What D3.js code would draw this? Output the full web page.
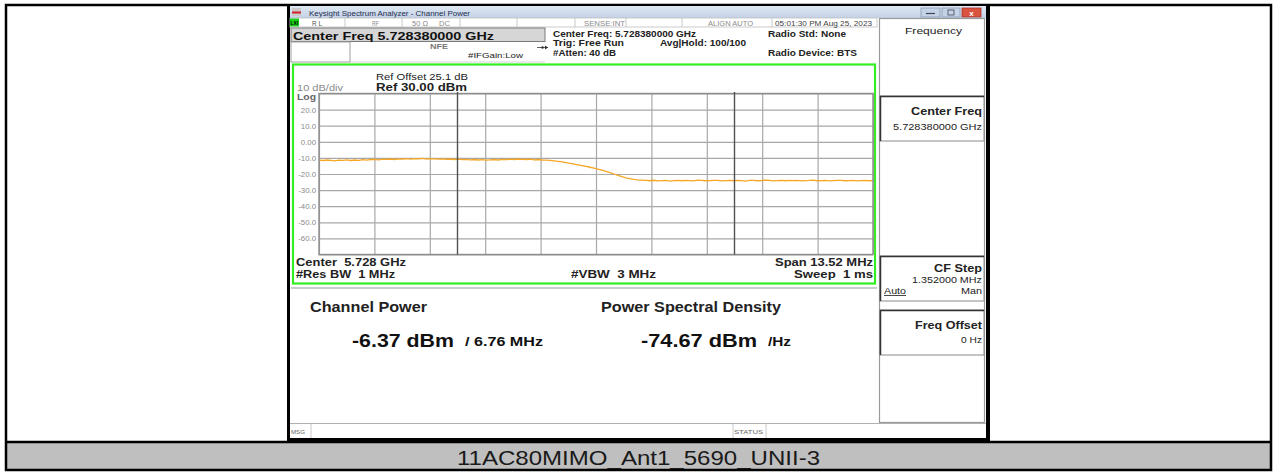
<!DOCTYPE html>
<html><head><meta charset="utf-8">
<script src="https://cdn.jsdelivr.net/npm/d3@7"></script>
<style>body{margin:0;background:#fff}svg{display:block}text{font-family:"Liberation Sans",Arial,sans-serif;white-space:pre}</style>
</head><body><svg id="c" width="1274" height="472"></svg>
<script>
// ---- data ----
const centerGHz = 5.72838;
const spanMHz = 13.52;
const integBWMHz = 6.76;
const refLevel = 30;          // dBm
const dbPerDiv = 10;
const yTickValues = [20, 10, 0, -10, -20, -30, -40, -50, -60];
const yTickLabels = ["20.0", "10.0", "0.00", "-10.0", "-20.0", "-30.0", "-40.0", "-50.0", "-60.0"];
const traceDbm = [
  -11.4,-11.6,-11.3,-11.5,-11.8,-11.4,-11.5,-11.2,-11.6,-11.3,
  -11.5,-11.1,-11.4,-11.0,-10.9,-11.2,-10.8,-10.9,-10.7,-11.0,
  -10.6,-10.8,-10.5,-10.7,-10.4,-10.6,-10.3,-10.7,-10.5,-10.6,
  -10.8,-10.6,-10.9,-10.7,-11.0,-10.8,-11.1,-10.9,-11.2,-11.0,
  -11.3,-11.1,-11.4,-11.2,-11.0,-11.3,-10.9,-11.1,-10.8,-11.0,
  -10.7,-10.9,-11.0,-10.8,-11.2,-11.0,-11.3,-11.4,-11.6,-11.8,
  -12.1,-12.5,-12.9,-13.4,-13.8,-14.3,-14.8,-15.3,-15.8,-16.3,
  -16.9,-17.6,-18.4,-19.2,-20.0,-20.9,-21.7,-22.4,-22.9,-23.3,
  -23.6,-23.8,-24.0,-24.2,-23.9,-24.3,-24.1,-24.0,-24.4,-24.1,
  -23.9,-24.2,-24.0,-24.1,-24.3,-23.8,-24.0,-24.2,-24.1,-23.9,
  -24.0,-24.3,-24.1,-23.9,-24.2,-24.0,-24.1,-24.4,-23.9,-24.0,
  -24.2,-24.1,-23.8,-24.0,-24.3,-24.1,-24.0,-24.2,-23.9,-24.1,
  -24.0,-24.3,-24.1,-24.0,-23.8,-24.2,-24.1,-24.0,-24.3,-24.1,
  -24.0,-23.9,-24.2,-24.1,-24.0,-24.3,-24.1,-23.9,-24.2,-24.1
];
const caption = "11AC80MIMO_Ant1_5690_UNII-3";
const channelPower = "-6.37 dBm";
const psd = "-74.67 dBm";

// ---- drawing ----
const svg = d3.select("#c");
const F = '"Liberation Sans",Arial,sans-serif';
// text placed by left edge x0 and right edge x1 (stretched to fit)
function tx(x0, x1, y, s, o = {}) {
  const t = svg.append("text").attr("x", x0).attr("y", y).text(s)
    .attr("font-size", o.size || 8).attr("fill", o.fill || "#222")
    .attr("font-weight", o.bold ? "bold" : "normal")
    .attr("textLength", x1 - x0).attr("lengthAdjust", "spacingAndGlyphs");
  if (o.underline) t.attr("text-decoration", "underline");
  return t;
}
function rect(x, y, w, h, fill, stroke, sw) {
  return svg.append("rect").attr("x", x).attr("y", y).attr("width", w).attr("height", h)
    .attr("fill", fill || "none").attr("stroke", stroke || "none").attr("stroke-width", sw || 1);
}
function line(x1, y1, x2, y2, c, w) {
  return svg.append("line").attr("x1", x1).attr("y1", y1).attr("x2", x2).attr("y2", y2)
    .attr("stroke", c).attr("stroke-width", w || 1);
}

rect(0, 0, 1274, 472, "#fff");
// caption band
rect(6, 442, 1265, 28, "#bfbfbf");
rect(6, 5, 1265, 465, "none", "#000", 2.5);
line(6, 442, 1271, 442, "#000", 2.5);
tx(457, 820, 465, caption, { size: 20.5, fill: "#1a1a1a" });

// screenshot frame
rect(287, 6, 703, 435, "#000");
rect(290, 6, 696, 432, "#fff");

// title bar
const defs = svg.append("defs");
const g1 = defs.append("linearGradient").attr("id", "tb").attr("x1", 0).attr("y1", 0).attr("x2", 0).attr("y2", 1);
g1.append("stop").attr("offset", 0).attr("stop-color", "#dfe8f3");
g1.append("stop").attr("offset", 1).attr("stop-color", "#c3d2e6");
rect(290, 6, 696, 12, "url(#tb)");
rect(292, 8, 9, 8, "#c9c9c9");
line(292, 12.5, 301, 12.5, "#d0202a", 2);
tx(309, 470, 15.5, "Keysight Spectrum Analyzer - Channel Power", { size: 7, fill: "#1e2d4d" });
// window buttons
rect(921, 8, 19, 9, "#c5d3e6", "#8a9bb5", 0.8);
line(926, 13.5, 935, 13.5, "#445", 1.2);
rect(942, 8, 18, 9, "#c5d3e6", "#8a9bb5", 0.8);
rect(948, 10, 6, 5, "none", "#445", 0.8);
rect(962, 8, 19, 9, "#d9533f", "#a33", 0.8);
svg.append("text").attr("x", 971.5).attr("y", 15.5).attr("text-anchor", "middle")
  .attr("font-size", 8).attr("font-weight", "bold").attr("fill", "#fff").text("x");

// status row
rect(290, 18, 587, 9, "#fff", "#bdbdbd", 0.8);
rect(290, 18.5, 9, 8, "#19d019");
tx(290.5, 298, 25.3, "LXI", { size: 5.5, bold: true, fill: "#000" });
[345, 402, 460, 517, 575, 626, 682, 772].forEach(x => line(x, 18, x, 27, "#bdbdbd", 0.8));
const sFill = "#8a8a8a";
tx(312, 322, 25.5, "R L", { size: 6.5, fill: "#555" });
tx(372, 379, 25.5, "RF", { size: 6.5, fill: sFill });
tx(412, 428, 25.5, "50 Ω", { size: 6.5, fill: sFill });
tx(439, 450, 25.5, "DC", { size: 6.5, fill: sFill });
tx(584, 625, 25.5, "SENSE:INT", { size: 6.5, fill: sFill });
tx(708, 753, 25.5, "ALIGN AUTO", { size: 6.5, fill: sFill });
tx(775, 872, 25.5, "05:01:30 PM Aug 25, 2023", { size: 6.8, fill: "#444" });

// center freq header box
rect(291, 28, 254, 13.5, "#d6d6d6", "#7a7a7a", 1);
tx(293, 494, 39.8, "Center Freq 5.728380000 GHz", { size: 11.8, bold: true, fill: "#111" });
rect(291, 42, 59, 20, "#fff", "#a0a0a0", 1);
line(350, 62, 545, 62, "#c8c8c8", 0.8);
tx(430, 448, 49, "NFE", { size: 7, bold: true, fill: "#777" });
tx(468, 523, 58, "#IFGain:Low", { size: 7.8, fill: "#222" });
line(537, 47.5, 548, 47.5, "#333", 0.8);
svg.append("path").attr("d", "M548,47.5 l-3,-2 v4 z").attr("fill", "#333");
svg.append("circle").attr("cx", 542.5).attr("cy", 47.5).attr("r", 1.2).attr("fill", "#333");

tx(553, 696, 36.5, "Center Freq: 5.728380000 GHz", { size: 8.5, bold: true });
tx(553, 624, 46, "Trig: Free Run", { size: 8.5, bold: true });
tx(660, 746, 46, "Avg|Hold: 100/100", { size: 8.5, bold: true });
tx(553, 616, 55.5, "#Atten: 40 dB", { size: 8.5, bold: true });
tx(768, 846, 36.5, "Radio Std: None", { size: 8.5, bold: true });
tx(768, 857, 55.5, "Radio Device: BTS", { size: 8.5, bold: true });

// right soft-key panel
rect(879.5, 18.5, 105, 404, "#fff", "#9a9a9a", 1.2);
tx(905, 962, 34, "Frequency", { size: 9.5 });
function softkey(y, h) {
  rect(880, y, 104, h, "#fff", "#8a8a8a", 1);
  line(880.5, y, 880.5, y + h, "#333", 1.5);
  line(880, y + 0.5, 984, y + 0.5, "#333", 1.5);
}
softkey(96, 45);
tx(911, 982, 115, "Center Freq", { size: 10.5, bold: true });
tx(893, 982, 130, "5.728380000 GHz", { size: 8.3 });
softkey(256, 45);
tx(934, 982, 272, "CF Step", { size: 10.5, bold: true });
tx(912, 982, 283, "1.352000 MHz", { size: 8.3 });
tx(884, 906, 294, "Auto", { size: 8.3, underline: true });
tx(961, 982, 294, "Man", { size: 8.3 });
softkey(310, 45);
tx(915, 982, 329, "Freq Offset", { size: 10.5, bold: true });
tx(961, 982, 343, "0 Hz", { size: 8.3 });

// green graticule frame
rect(293, 64.5, 582, 219, "#fff", "#33ee22", 2.2);
line(291, 288, 877, 288, "#9a9a9a", 1.2);

// scales
const plot = { x0: 319, x1: 873, y0: 93.5, y1: 254.5 };
const startMHz = centerGHz * 1000 - spanMHz / 2, stopMHz = centerGHz * 1000 + spanMHz / 2;
const x = d3.scaleLinear().domain([startMHz, stopMHz]).range([plot.x0, plot.x1]);
const y = d3.scaleLinear().domain([refLevel - 10 * dbPerDiv, refLevel]).range([plot.y1, plot.y0]);

const gg = svg.append("g");
// vertical grid
const xGrid = d3.range(11).map(i => startMHz + i * spanMHz / 10);
gg.append("g").attr("transform", `translate(0,${plot.y1})`)
  .call(d3.axisBottom(x).tickValues(xGrid).tickSize(-(plot.y1 - plot.y0)).tickFormat(""))
  .call(g => g.select(".domain").remove())
  .call(g => g.selectAll("line").attr("stroke", "#a8a8a8").attr("stroke-width", 1.2));
// horizontal grid
const yGrid = d3.range(11).map(i => refLevel - i * dbPerDiv);
gg.append("g").attr("transform", `translate(${plot.x0},0)`)
  .call(d3.axisLeft(y).tickValues(yGrid).tickSize(-(plot.x1 - plot.x0)).tickFormat(""))
  .call(g => g.select(".domain").remove())
  .call(g => g.selectAll("line").attr("stroke", "#a8a8a8").attr("stroke-width", 1.2));
rect(plot.x0, plot.y0, plot.x1 - plot.x0, plot.y1 - plot.y0, "none", "#8c8c8c", 1.4);

// y labels
const yl = gg.append("g").attr("transform", `translate(${plot.x0 - 3},0)`)
  .call(d3.axisLeft(y).tickValues(yTickValues).tickSize(0).tickPadding(0)
    .tickFormat((d, i) => yTickLabels[i]));
yl.select(".domain").remove();
yl.selectAll("text").attr("font-family", F).attr("font-size", 7.8).attr("fill", "#8a8a8a");

// channel integration bandwidth markers
const cf = centerGHz * 1000;
[cf - integBWMHz / 2, cf + integBWMHz / 2].forEach(f => {
  line(x(f), plot.y0 - 1.5, x(f), plot.y1, "#505050", 1.4);
});

// trace
const xs = d3.scaleLinear().domain([0, traceDbm.length - 1]).range([startMHz, stopMHz]);
gg.append("path").datum(traceDbm)
  .attr("fill", "none").attr("stroke", "#f5a623").attr("stroke-width", 1.3)
  .attr("d", d3.line().x((d, i) => x(xs(i))).y(d => y(d)));

// graticule annotations
tx(297, 343, 90.5, "10 dB/div", { size: 8.8, fill: "#8a8a8a" });
tx(297, 316, 100, "Log", { size: 8.8, fill: "#666", bold: true });
tx(376, 468, 79.5, "Ref Offset 25.1 dB", { size: 8.8 });
tx(376, 467, 90.5, "Ref 30.00 dBm", { size: 11, bold: true });
tx(296, 406, 265.5, "Center  5.728 GHz", { size: 10, bold: true });
tx(296, 395, 278, "#Res BW  1 MHz", { size: 10, bold: true });
tx(571, 656, 278, "#VBW  3 MHz", { size: 10, bold: true });
tx(775, 873, 265.5, "Span 13.52 MHz", { size: 10, bold: true });
tx(794, 873, 278, "Sweep  1 ms", { size: 10, bold: true });

// results
tx(310, 427, 312, "Channel Power", { size: 14, bold: true });
tx(601, 781, 312, "Power Spectral Density", { size: 14, bold: true });
tx(352, 454, 347, channelPower, { size: 19, bold: true, fill: "#111" });
tx(465, 543, 346, "/ 6.76 MHz", { size: 12, bold: true, fill: "#111" });
tx(641, 757, 347, psd, { size: 19, bold: true, fill: "#111" });
tx(768, 791, 346, "/Hz", { size: 12, bold: true, fill: "#111" });

// message bar
line(290, 423.5, 986, 423.5, "#b0b0b0", 1);
line(311, 424, 311, 438, "#c8c8c8", 1);
line(733, 424, 733, 438, "#c8c8c8", 1);
line(766, 424, 766, 438, "#c8c8c8", 1);
tx(291, 305, 434, "MSG", { size: 5.5, fill: "#666" });
tx(734, 763, 434, "STATUS", { size: 5.5, fill: "#666" });
</script></body></html>
